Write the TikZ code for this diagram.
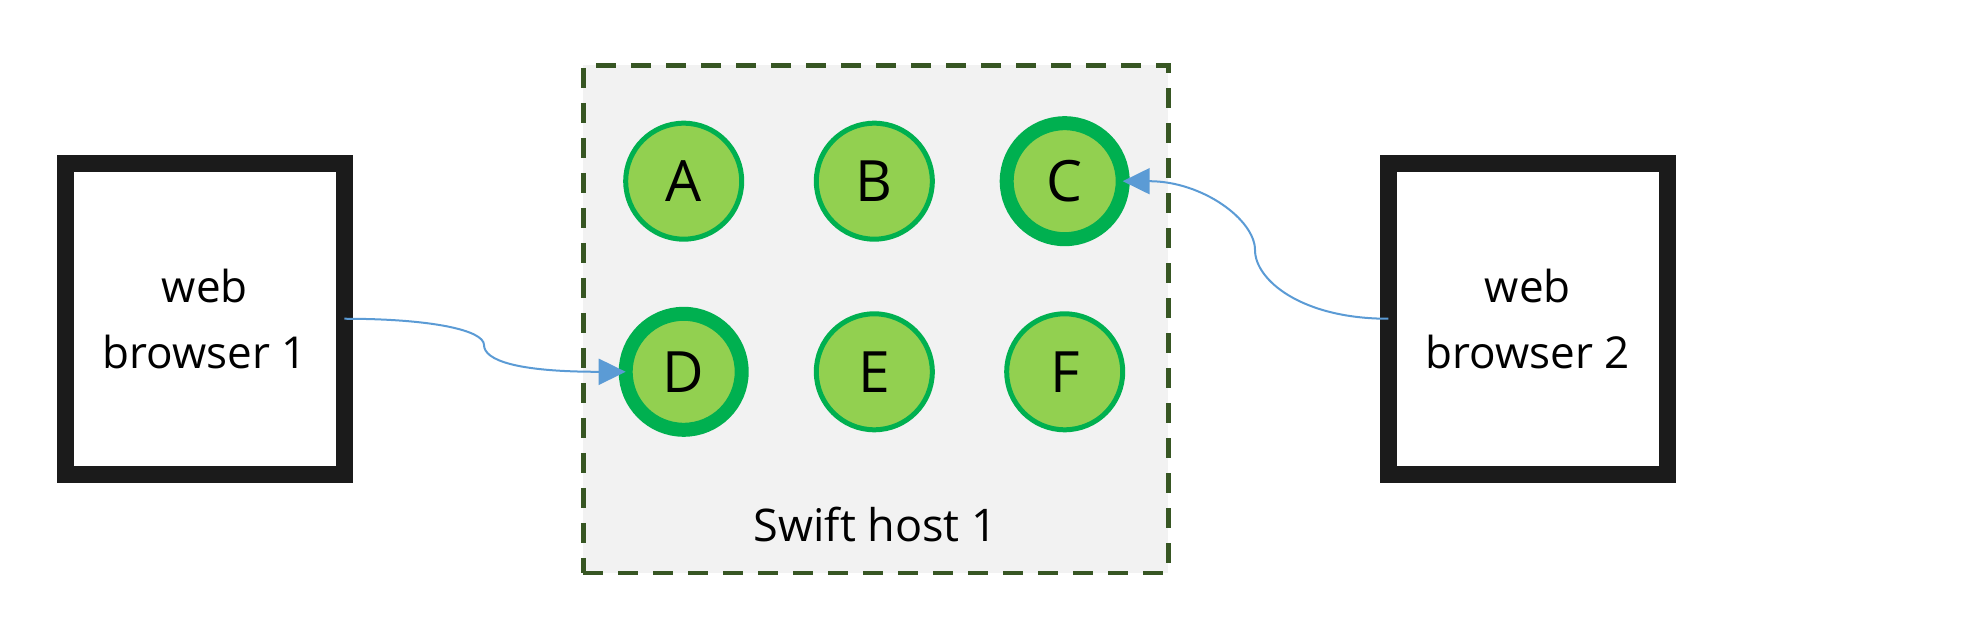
\documentclass[tikz,border=0pt]{standalone}
\usepackage{fontspec}
\setmainfont{Open Sans}
\usetikzlibrary{arrows.meta}
\definecolor{boxblack}{HTML}{1B1B1B}
\definecolor{nodefill}{HTML}{92D050}
\definecolor{nodeline}{HTML}{00B050}
\definecolor{hostline}{HTML}{375623}
\definecolor{hostfill}{HTML}{F2F2F2}
\definecolor{linkblue}{HTML}{5B9BD5}
\tikzset{
  browserbox/.style={draw=boxblack, line width=17pt, fill=white, minimum width=279pt,
    minimum height=311pt, inner sep=0pt, outer sep=0pt, align=center,
    font=\fontsize{44}{66}\selectfont},
  hostbox/.style={draw=hostline, fill=hostfill, line width=4.6pt, dash pattern=on 20pt off 15pt},
  objnode/.style={circle, draw=nodeline, fill=nodefill, line width=5pt, minimum size=116pt,
    inner sep=0pt, outer sep=0pt, font=\fontsize{57}{60}\selectfont},
  objhot/.style={objnode, line width=14pt},
  hostlabel/.style={font=\fontsize{45}{54}\selectfont, anchor=base},
  linkarrow/.style={draw=linkblue, line width=2pt, -{Triangle[length=27pt, width=26pt]}}
}
\begin{document}
\begin{tikzpicture}[x=1pt, y=1pt]
\useasboundingbox (0,0) rectangle (1980,626);
% Swift host container
\node[hostbox, minimum width=585pt, minimum height=507.5pt, inner sep=0pt, outer sep=0pt]
  (host) at (875.8,306.75) {};
\node[hostlabel] (hostname) at (875.5,84) {Swift host 1};
% objects
\node[objnode] (A) at (683.7,444.8) {A};
\node[objnode] (B) at (874.3,444.8) {B};
\node[objhot]  (C) at (1064.7,444.8) {C};
\node[objhot]  (D) at (683.7,254.2) {D};
\node[objnode] (E) at (874.3,254.2) {E};
\node[objnode] (F) at (1064.7,254.2) {F};
% browsers
\node[browserbox] (b1) at (204.8,307.25) {web\\browser 1};
\node[browserbox] (b2) at (1527.8,307.25) {web\\browser 2};
% connectors
\coordinate (m1) at (484,281);
\coordinate (m2) at (1255,376);
\draw[linkarrow] (b1.east) to[out=0, in=90, out distance=86pt, in distance=15pt] (m1)
  to[out=-90, in=180, out distance=15pt, in distance=110pt] (D.west);
\draw[linkarrow] (b2.west) to[out=180, in=-90, out distance=87pt, in distance=30pt] (m2)
  to[out=90, in=0, out distance=30pt, in distance=80pt] (C.east);
\end{tikzpicture}
\end{document}
